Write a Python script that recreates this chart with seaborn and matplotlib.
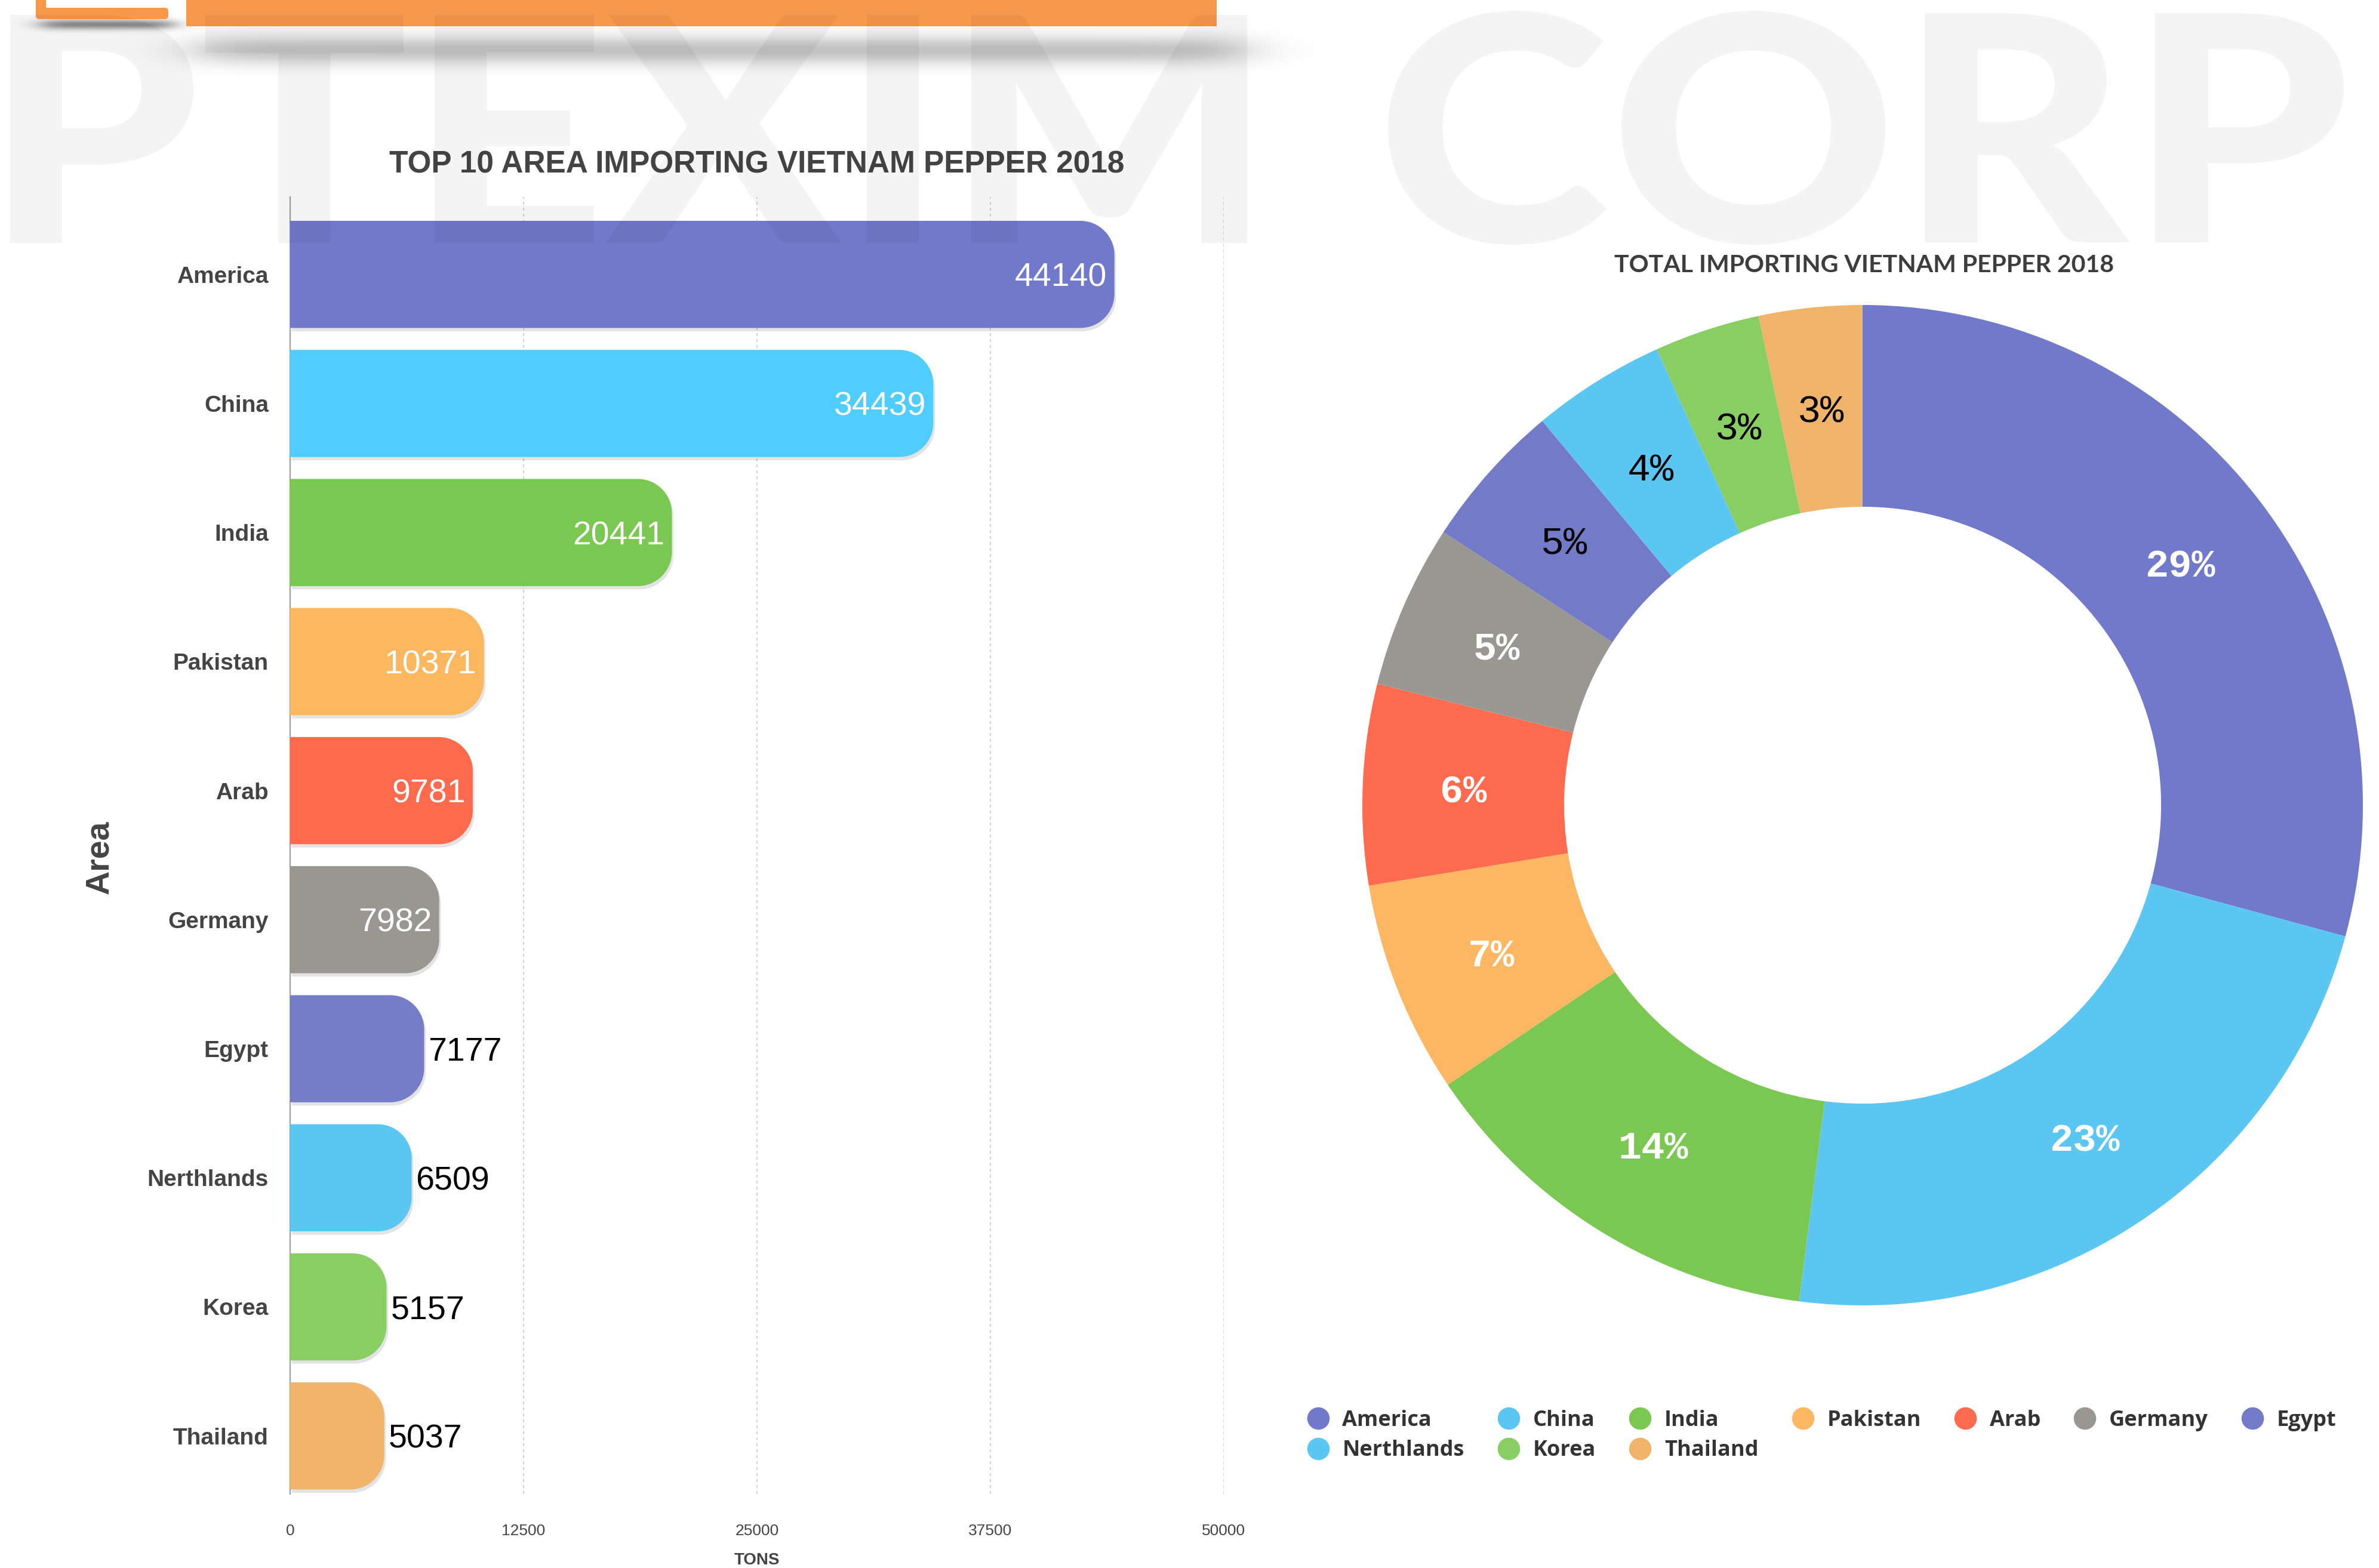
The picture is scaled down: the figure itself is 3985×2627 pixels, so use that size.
import numpy as np
import pandas as pd
import matplotlib
matplotlib.use("Agg")
import matplotlib.pyplot as plt
import seaborn as sns
from matplotlib.path import Path
from matplotlib.patches import PathPatch, Rectangle, FancyBboxPatch
from matplotlib.textpath import TextPath
from matplotlib.font_manager import FontProperties
from matplotlib.transforms import Affine2D
from matplotlib.lines import Line2D
import matplotlib.patheffects as pe

# ---------------- data ----------------
areas = ["America", "China", "India", "Pakistan", "Arab", "Germany",
         "Egypt", "Nerthlands", "Korea", "Thailand"]
tons = [44140, 34439, 20441, 10371, 9781, 7982, 7177, 6509, 5157, 5037]
bar_colors = ["#7179CB", "#4FCDFF", "#7AC751", "#FDB75F", "#FF6A4D",
              "#9A9691", "#757DC6", "#5BC6F2", "#88CE62", "#F0B46A"]
ring_colors = ["#7179CB", "#5BC6F2", "#7AC751", "#FDB661", "#FF6B4E",
               "#989792", "#737BC8", "#5BC6F2", "#88CE63", "#EFB369"]
x_ticks = [0, 12500, 25000, 37500, 50000]
n_inside = 6  # first bars carry their value inside, in white

bar_title = "TOP 10 AREA IMPORTING VIETNAM PEPPER 2018"
ring_title = "TOTAL IMPORTING VIETNAM PEPPER 2018"

df = pd.DataFrame({"area": areas, "tons": tons})

# ---------------- figure ----------------
W, H = 3985, 2627
sns.set_theme(style="white")
plt.rcParams["font.family"] = ["Liberation Sans", "DejaVu Sans"]
fig = plt.figure(figsize=(W / 100, H / 100), dpi=100)
fig.patch.set_facecolor("white")


def px_axes(x0, y0, x1, y1, **kw):
    """Axes placed by pixel box (top-left origin)."""
    return fig.add_axes([x0 / W, 1 - y1 / H, (x1 - x0) / W, (y1 - y0) / H], **kw)


# background layer: header band, logo and soft shadows
bg = fig.add_axes([0, 0, 1, 1], zorder=-5)
bg.axis("off")

sh_w, sh_h = 2400, 200
xx, yy = np.meshgrid(np.arange(sh_w) + 0.5, np.arange(sh_h) + 0.5)


def soft_band(x0, x1, cy, sy, ramp, peak):
    hx = 0.5 * (np.tanh((xx - x0) / ramp) - np.tanh((xx - x1) / ramp))
    gy = np.exp(-0.5 * ((yy - cy) / sy) ** 2)
    return peak * hx * gy


alpha = soft_band(330, 2080, 84, 17, 70, 0.24) + soft_band(70, 290, 41, 6, 25, 0.45)
shadow = np.zeros((sh_h, sh_w, 4))
shadow[..., 3] = np.clip(alpha, 0, 1)
bg.imshow(shadow, extent=(0, sh_w, sh_h, 0), interpolation="bilinear", zorder=1)
bg.set_xlim(0, W)
bg.set_ylim(H, 0)

orange = "#F7984A"
bg.add_patch(Rectangle((312, -5), 2038 - 312, 49, color=orange, lw=0, zorder=3))
bg.add_patch(FancyBboxPatch((60, 13), 222, 19, boxstyle="round,pad=0,rounding_size=6",
                            color=orange, lw=0, zorder=3))
bg.add_patch(FancyBboxPatch((60, -30), 17, 62, boxstyle="round,pad=0,rounding_size=6",
                            color=orange, lw=0, zorder=3))

# ---------------- bar chart ----------------
X0, X1, Y0, Y1 = 486, 2050, 330, 2503
ax = px_axes(X0, Y0, X1, Y1)
ax.set_facecolor("none")
sns.barplot(data=df, x="tons", y="area", hue="area", palette=bar_colors,
            saturation=1, legend=False, orient="h", width=0.83, ax=ax)
y_lo, y_hi = len(areas) - 0.55, -0.6
ax.set_xlim(x_ticks[0], x_ticks[-1])
ax.set_ylim(y_lo, y_hi)

ax.set_xticks(x_ticks)
ax.set_xticklabels([str(t) for t in x_ticks], fontsize=19, color="#444444")
ax.xaxis.grid(True, linestyle=(0, (3, 3)), color="#cdcdcd", lw=1.2)
ax.yaxis.grid(False)
ax.tick_params(axis="x", length=0, pad=36)
ax.tick_params(axis="y", length=0, pad=26)
for lab in ax.get_yticklabels():
    lab.set_fontsize(28)
    lab.set_fontweight("bold")
    lab.set_color("#444444")
for s in ["top", "right", "bottom"]:
    ax.spines[s].set_visible(False)
ax.spines["left"].set_color("#a0a0a0")
ax.spines["left"].set_linewidth(1.6)
ax.set_xlabel("TONS", fontsize=20, fontweight="bold", color="#444444", labelpad=17)
ax.set_ylabel("Area", fontsize=40, fontweight="bold", color="#444444")
ax.yaxis.set_label_coords(-0.187, 0.491)

# corner radius in pixels, converted to data units along each axis
r_px = 57
rx = r_px * (x_ticks[-1] - x_ticks[0]) / (X1 - X0)
ry = r_px * (y_lo - y_hi) / (Y1 - Y0)
k = 0.5523

for p in list(ax.patches):
    x0, yb = p.get_x(), p.get_y()
    w, h = p.get_width(), p.get_height()
    if w <= 0:
        continue
    color = p.get_facecolor()
    p.set_visible(False)
    x1, y1 = x0 + w, yb + h
    verts = [(x0, yb), (x1 - rx, yb),
             (x1 - rx + k * rx, yb), (x1, yb + ry - k * ry), (x1, yb + ry),
             (x1, y1 - ry),
             (x1, y1 - ry + k * ry), (x1 - rx + k * rx, y1), (x1 - rx, y1),
             (x0, y1), (x0, yb)]
    codes = [Path.MOVETO, Path.LINETO,
             Path.CURVE4, Path.CURVE4, Path.CURVE4,
             Path.LINETO,
             Path.CURVE4, Path.CURVE4, Path.CURVE4,
             Path.LINETO, Path.CLOSEPOLY]
    bar = PathPatch(Path(verts, codes), facecolor=color, edgecolor="none", zorder=3)
    bar.set_path_effects([pe.SimplePatchShadow(offset=(2, -4), shadow_rgbFace="k", alpha=0.12),
                          pe.Normal()])
    ax.add_patch(bar)

# value labels
for i, v in enumerate(tons):
    if i < n_inside:
        ax.annotate(str(v), (v, i), xytext=(-9, 0), textcoords="offset points",
                    ha="right", va="center_baseline", fontsize=40, color="white", zorder=5)
    else:
        ax.annotate(str(v), (v, i), xytext=(5, 0), textcoords="offset points",
                    ha="left", va="center_baseline", fontsize=40, color="black", zorder=5)

fig.text(1268 / W, 1 - 276 / H, bar_title, ha="center", va="center",
         fontsize=37, fontweight="bold", color="#444444")

# ---------------- donut ----------------
CX, CY, R = 3120, 1349, 838
ax2 = px_axes(CX - R, CY - R, CX + R, CY + R)
ax2.set_facecolor("none")
wedges, _, pct_texts = ax2.pie(
    tons, colors=ring_colors, startangle=90, counterclock=False, radius=1,
    wedgeprops=dict(width=1 - 500 / 838, edgecolor="none"),
    autopct=lambda p: f"{p:.0f}%", pctdistance=(1 + 500 / 838) / 2)
for i, t in enumerate(pct_texts):
    t.set_fontfamily(["Liberation Mono", "DejaVu Sans Mono"])
    t.set_fontsize(47)
    t.set_va("center_baseline")
    if i < n_inside:
        t.set_color("white")
        t.set_fontweight("bold")
    else:
        t.set_color("black")
ax2.set_xlim(-1, 1)
ax2.set_ylim(-1, 1)
ax2.axis("off")

fig.text(3122 / W, 1 - 444 / H, ring_title, ha="center", va="center",
         fontsize=29.5, fontweight="bold", color="#3d3d3d",
         family=["Lato", "DejaVu Sans"])

# legend: two rows, filled row by row
order = [0, 7, 1, 8, 2, 9, 3, 4, 5, 6]
handles = [Line2D([], [], marker="o", linestyle="none", markersize=27,
                  markerfacecolor=ring_colors[i], markeredgecolor="none")
           for i in order]
labels = [areas[i] for i in order]
fig.legend(handles, labels, ncol=7, loc="upper left",
           bbox_to_anchor=(2190 / W, 1 - 2362 / H), frameon=False,
           prop=dict(family=["Open Sans", "DejaVu Sans"], weight="bold", size=26),
           labelcolor="#333333", handlelength=1.0, handletextpad=0.62,
           columnspacing=1.56, labelspacing=0.4, borderpad=0, borderaxespad=0)

# ---------------- watermark ----------------
wm = fig.add_axes([0, 0, 1, 1], zorder=20)
wm.set_xlim(0, W)
wm.set_ylim(H, 0)
wm.axis("off")
wm.patch.set_alpha(0)
wm_font = FontProperties(family=["Lato", "DejaVu Sans"], weight="black")


def stretched_word(word, x0, x1, y0, y1):
    tp = TextPath((0, 0), word, size=100, prop=wm_font)
    ext = tp.get_extents()
    tr = (Affine2D().translate(-ext.x0, -ext.y1)
          .scale((x1 - x0) / ext.width, -(y1 - y0) / ext.height)
          .translate(x0, y0))
    wm.add_patch(PathPatch(tr.transform_path(tp), facecolor="black",
                           edgecolor="none", alpha=0.042))


stretched_word("PTEXIM", 17, 2089, 25, 407)
stretched_word("CORP", 2325, 3926, 18, 410)

fig.savefig("out.png", dpi=100, facecolor="white")
